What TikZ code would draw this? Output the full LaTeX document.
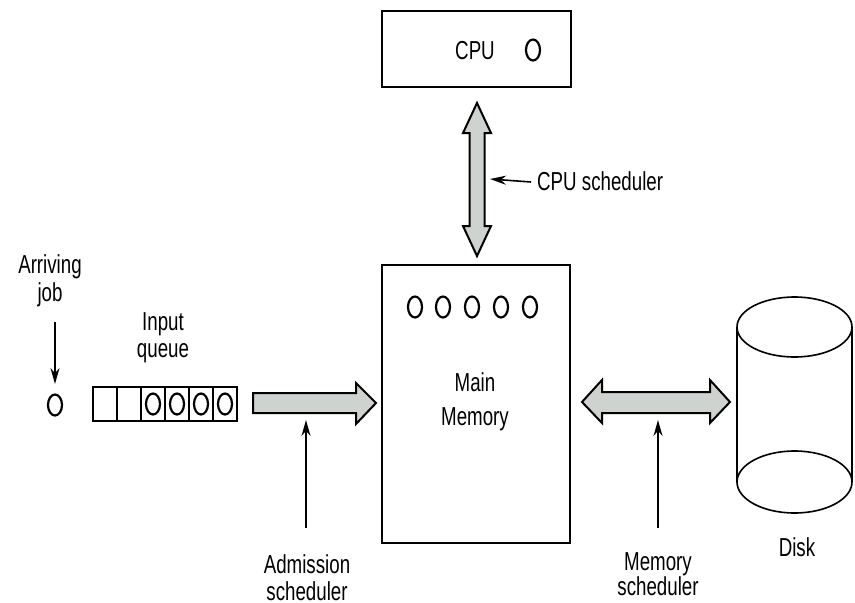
\documentclass[tikz,border=0pt]{standalone}
\usepackage{fontspec}
\setmainfont{Liberation Sans}[FakeStretch=0.72]
\usetikzlibrary{arrows.meta,shapes.geometric}
\definecolor{arrowfill}{RGB}{206,211,207}
\begin{document}
\begin{tikzpicture}[x=1pt,y=-1pt,
  lbl/.style={font=\fontsize{26}{27}\selectfont,align=center,inner sep=0pt},
  box/.style={draw,line width=2.2pt,inner sep=0pt},
  job/.style={draw,ellipse,line width=2.2pt,minimum width=14pt,minimum height=21pt,inner sep=0pt},
  cell/.style={draw,line width=1.6pt,minimum width=24pt,minimum height=34pt,inner sep=0pt},
  fat/.style={draw,line width=2pt,fill=arrowfill,line join=miter},
  thin/.style={line width=1.6pt,-{Stealth[length=16pt,width=9pt]}}]
\useasboundingbox (0,0) rectangle (855,603);
% CPU
\node[box,minimum width=189pt,minimum height=76pt] (cpu) at (476.5,49) {};
\node[lbl] (cputxt) at (475,51) {CPU};
\node[job] (cpujob) at (533,50) {};
% Main memory
\node[box,minimum width=188pt,minimum height=278pt] (mem) at (476,404) {};
\foreach \i/\x in {1/415,2/443,3/472,4/501,5/530}
  \node[job] (m\i) at (\x,307) {};
\node[lbl,font=\fontsize{26}{34}\selectfont] (memtxt) at (475,402) {Main\\Memory};
% CPU <-> memory arrow
\draw[fat] (477,103) -- (491,133) -- (484.5,133) -- (484.5,226) -- (491,226) -- (477,256)
  -- (463,226) -- (469.5,226) -- (469.5,133) -- (463,133) -- cycle;
\node[lbl,anchor=west] (cpusched) at (537,181) {CPU scheduler};
\coordinate (cputip) at (490,179);
\draw[thin] ([xshift=-6pt,yshift=-1pt]cpusched.west) -- (cputip);
% Arriving job
\node[lbl,font=\fontsize{26}{28}\selectfont] (arr) at (50,281) {Arriving\\job};
\node[job] (newjob) at (55,405) {};
\coordinate (arrtip) at (55,384);
\draw[thin] (55,322) -- (arrtip);
% Input queue
\node[lbl,font=\fontsize{26}{27}\selectfont] (iq) at (163,338) {Input\\queue};
\foreach \i/\x in {1/105,2/129,3/153,4/177,5/201,6/225}
  \node[cell] (q\i) at (\x,404) {};
\foreach \i in {3,4,5,6}
  \node[job] at (q\i) {};
% Admission arrow
\draw[fat] (253,393) -- (356,393) -- (356,383) -- (376,403) -- (356,424) -- (356,413)
  -- (253,413) -- cycle;
\node[lbl] (adm) at (307,578) {Admission\\scheduler};
\coordinate (admtip) at (306,420);
\draw[thin] (306,528) -- (admtip);
% Memory <-> disk arrow
\draw[fat] (582,402) -- (602,380) -- (602,392) -- (710,392) -- (710,380) -- (730,402)
  -- (710,423) -- (710,413) -- (602,413) -- (602,423) -- cycle;
\node[lbl,font=\fontsize{26}{25}\selectfont] (msch) at (658,574) {Memory\\scheduler};
\coordinate (memtip) at (658,420);
\draw[thin] (658,528) -- (memtip);
% Disk
\draw[line width=1.6pt] (794.5,327) ellipse [x radius=57.5pt, y radius=30pt];
\draw[line width=1.6pt] (794.5,482) ellipse [x radius=57.5pt, y radius=31pt];
\draw[line width=1.3pt] (737,327) -- (737,482) (852,327) -- (852,482);
\node[lbl] (disk) at (797,547) {Disk};
\end{tikzpicture}
\end{document}
